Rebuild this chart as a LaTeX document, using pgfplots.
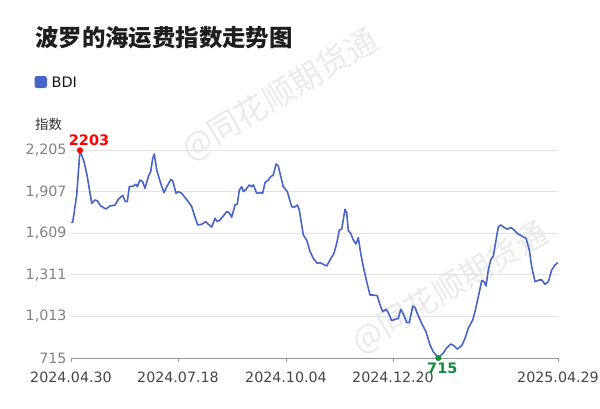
\documentclass[border=0pt]{standalone}
\usepackage{fontspec}
\setmainfont{DejaVu Sans}
\newfontfamily\cjk{Noto Sans CJK SC}
\usepackage{pgfplots}
\pgfplotsset{compat=1.18}
\definecolor{linec}{RGB}{72,100,200}
\definecolor{gridc}{RGB}{226,226,226}
\definecolor{axc}{RGB}{150,150,150}
\definecolor{ytc}{RGB}{130,130,130}
\definecolor{xtc}{RGB}{70,70,70}
\definecolor{minc}{RGB}{20,140,60}
\definecolor{wm}{RGB}{234,234,234}
\begin{document}
\begin{tikzpicture}[x=1bp,y=1bp]
\useasboundingbox (0,0) rectangle (600,408);
\node[rotate=31,text=wm,font=\cjk\fontsize{32}{32}\selectfont] at (450,408-288) {@同花顺期货通};
\node[rotate=31,text=wm,font=\cjk\fontsize{32}{32}\selectfont] at (280,408-95) {@同花顺期货通};
\begin{axis}[
  at={(71bp,50bp)}, anchor=south west,
  scale only axis, width=487bp, height=208bp,
  xmin=71, xmax=558, ymin=715, ymax=2205,
  clip=false,
  axis x line*=bottom, axis y line*=left,
  x axis line style={draw=axc, line width=0.8pt},
  y axis line style={draw=none},
  xtick={71,178,286,393,558},
  xticklabels={2024.04.30,2024.07.18,2024.10.04,2024.12.20,2025.04.29},
  xtick style={draw=axc, line width=0.8pt},
  tick align=outside, major tick length=4bp,
  xticklabel style={text=xtc, font=\fontsize{14.3}{15}\selectfont, yshift=-6bp},
  ytick={715,1013,1311,1609,1907,2205},
  ymajorgrids, grid style={draw=gridc, line width=0.8pt},
  ytick style={draw=none},
  yticklabel style={text=ytc, font=\fontsize{14.3}{15}\selectfont, xshift=3bp},
  /pgf/number format/.cd, 1000 sep={,}, assume math mode=true,
]
\addplot[linec, line width=1.6pt, line join=round] coordinates {
(71,1687)(72.7,1687)(76.7,1883)(80,2203)(84,2121)(87.3,2014)(91.7,1823)(95,1847)(97.3,1840)(100.7,1804)(106,1782)(110,1804)(115,1811)(118.3,1852)(122.7,1880)(125.3,1835)(127.3,1835)(129.3,1942)(133.3,1947)(136,1959)(137.3,1942)(140,1990)(142.7,1978)(145,1930)(148.3,2014)(150.7,2050)(152.7,2145)(154.3,2176)(156.7,2062)(160.7,1966)(164,1899)(166.7,1942)(168.3,1961)(170.7,1994)(172.7,1985)(176,1895)(178.3,1907)(181.7,1895)(185,1864)(188.3,1835)(191.7,1800)(195,1723)(197.7,1668)(201.7,1673)(205.7,1692)(208.3,1673)(211.7,1653)(215,1716)(217.3,1692)(220,1704)(224,1739)(226.7,1763)(229.3,1756)(231.7,1723)(235,1811)(237.3,1818)(239.3,1918)(241.7,1942)(243.3,1907)(246,1924)(249.3,1955)(251.7,1942)(253.3,1955)(256.7,1895)(260.7,1899)(262.7,1895)(265,1971)(268.3,1990)(270.7,2014)(273.3,2026)(276,2104)(278.3,2090)(280,2038)(283.3,1942)(287.3,1907)(291.7,1800)(294,1794)(297.3,1811)(299.3,1775)(303.3,1596)(306.7,1560)(310,1479)(313.3,1429)(317.3,1393)(320,1398)(322.7,1388)(326.7,1374)(330,1417)(334,1465)(336.7,1536)(339.3,1632)(341.7,1637)(345,1780)(346.7,1756)(348.3,1627)(350.7,1608)(353.3,1560)(356,1532)(358.3,1577)(360.7,1465)(363.3,1369)(366.7,1262)(370,1166)(373.3,1166)(377.3,1161)(380,1095)(382.7,1047)(386,1064)(388.3,1040)(391.7,982)(395,992)(398.3,999)(400.7,1064)(403.3,1030)(406.7,968)(409.3,968)(412.7,1087)(415,1078)(418.3,1016)(421.7,963)(426,903)(430,808)(433.3,760)(438.3,715)(443.3,751)(446.7,787)(450.7,815)(454,803)(457.3,779)(461.7,803)(465,856)(468.3,928)(472.7,987)(475,1047)(478.3,1154)(481.7,1269)(484,1262)(486,1231)(488.3,1346)(490.7,1417)(493.3,1446)(496,1560)(498.3,1655)(500.7,1668)(504,1651)(507.3,1637)(510.7,1649)(513.3,1637)(517.3,1608)(521.7,1589)(526,1572)(529.3,1489)(531.7,1369)(535,1262)(539.3,1274)(541.7,1274)(545,1243)(548.3,1262)(551.7,1346)(555,1381)(557.7,1398)
};
\addplot[only marks, mark=*, mark size=2.8bp, red, nodes near coords, point meta=explicit symbolic,
  every node near coord/.style={text=red, font=\bfseries\fontsize{14.5}{15}\selectfont, anchor=south, yshift=1bp, xshift=9bp}]
  coordinates {(80,2203)[2203]};
\addplot[only marks, mark=*, mark size=2.8bp, minc, nodes near coords, point meta=explicit symbolic,
  every node near coord/.style={text=minc, font=\bfseries\fontsize{14.5}{15}\selectfont, anchor=north, yshift=-1bp, xshift=4bp}]
  coordinates {(438.3,715)[715]};
\end{axis}
\node[anchor=west,inner sep=0pt,text={rgb,255:red,50;green,50;blue,50},font=\cjk\fontsize{13.5}{14}\selectfont] at (35,408-124) {指数};
\node[anchor=west,inner sep=0pt,text={rgb,255:red,30;green,30;blue,30},font=\cjk\bfseries\fontsize{23.5}{24}\selectfont] at (35,408-38) {波罗的海运费指数走势图};
\fill[linec, rounded corners=2.5bp] (34.5,408-88) rectangle (47,408-76);
\node[anchor=west,inner sep=0pt,text={rgb,255:red,20;green,20;blue,20},font=\fontsize{14.5}{15}\selectfont] at (51.5,408-82) {BDI};
\end{tikzpicture}
\end{document}
